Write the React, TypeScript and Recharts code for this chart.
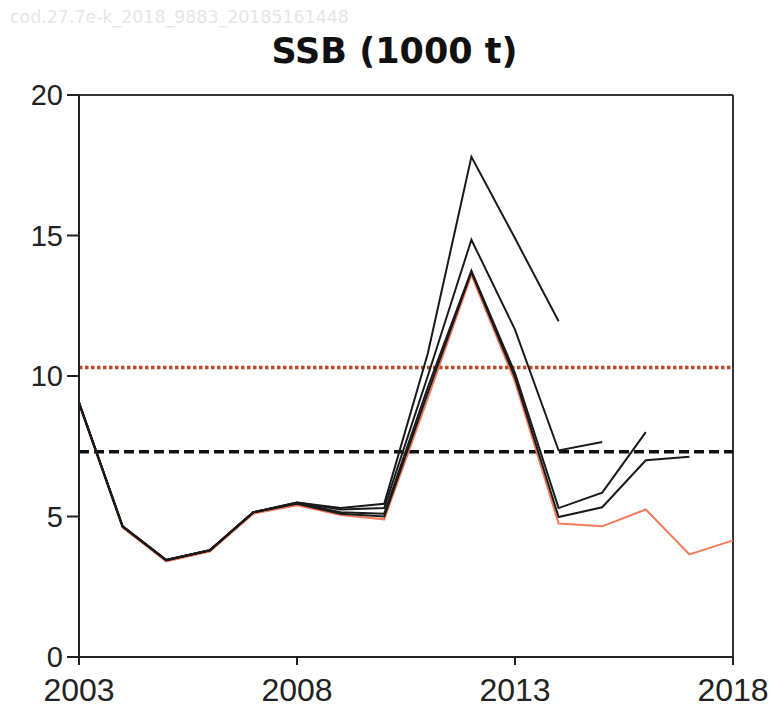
import React from "react";
import { LineChart, Line, XAxis, YAxis, ReferenceLine } from "recharts";

const years = [2003, 2004, 2005, 2006, 2007, 2008, 2009, 2010, 2011, 2012, 2013, 2014, 2015, 2016, 2017, 2018];
const ssbLatest = [9.0, 4.6, 3.4, 3.75, 5.1, 5.4, 5.05, 4.9, 9.2, 13.6, 9.8, 4.75, 4.65, 5.25, 3.65, 4.15];
const ssbPeel1 = [9.05, 4.65, 3.45, 3.8, 5.15, 5.45, 5.1, 5.0, 9.4, 13.7, 9.95, 4.98, 5.33, 7.0, 7.13];
const ssbPeel2 = [9.05, 4.65, 3.45, 3.8, 5.15, 5.48, 5.15, 5.1, 9.6, 13.75, 10.1, 5.3, 5.85, 8.0];
const ssbPeel3 = [9.05, 4.65, 3.45, 3.8, 5.15, 5.5, 5.25, 5.3, 10.0, 14.85, 11.65, 7.35, 7.65];
const ssbPeel4 = [9.05, 4.65, 3.45, 3.8, 5.15, 5.5, 5.3, 5.45, 10.8, 17.8, 14.9, 11.95];
const xTicks = [2003, 2008, 2013, 2018];
const yTicks = [0, 5, 10, 15, 20];
const bpa = 10.3;
const blim = 7.3;
const titleText = "SSB (1000 t)";
const watermarkText = "cod.27.7e-k_2018_9883_20185161448";

const data = years.map((y, i) => ({
  year: y,
  latest: ssbLatest[i] ?? null,
  p1: ssbPeel1[i] ?? null,
  p2: ssbPeel2[i] ?? null,
  p3: ssbPeel3[i] ?? null,
  p4: ssbPeel4[i] ?? null,
}));

export default function App() {
  return (
    <div style={{ position: "absolute", left: 0, top: 0, width: 771, height: 712, background: "#fff" }}>
      <LineChart width={771} height={712} data={data} margin={{ top: 95, right: 38, bottom: 0, left: 0 }}>
        <XAxis
          dataKey="year"
          type="number"
          domain={[2003, 2018]}
          ticks={xTicks}
          height={55}
          tickSize={8}
          tickMargin={13}
          axisLine={{ stroke: "#222", strokeWidth: 2 }}
          tickLine={{ stroke: "#222", strokeWidth: 2 }}
          tick={{ fill: "#222", fontSize: 32, fontFamily: "Liberation Sans, Arial, sans-serif" }}
          interval={0}
        />
        <YAxis
          type="number"
          domain={[0, 20]}
          ticks={yTicks}
          width={79}
          tickSize={12}
          tickMargin={4}
          axisLine={{ stroke: "#222", strokeWidth: 2 }}
          tickLine={{ stroke: "#222", strokeWidth: 2 }}
          tick={{ fill: "#222", fontSize: 29, fontFamily: "Liberation Sans, Arial, sans-serif" }}
          interval={0}
        />
        <ReferenceLine y={20} stroke="#333" strokeWidth={2} />
        <ReferenceLine x={2018} stroke="#333" strokeWidth={2} />
        <ReferenceLine y={bpa} stroke="#bc4a28" strokeWidth={3.5} strokeDasharray="3.5 2.5" />
        <ReferenceLine y={blim} stroke="#111" strokeWidth={3.5} strokeDasharray="10 5" />
        <Line dataKey="latest" stroke="#f47a5a" strokeWidth={2} dot={false} isAnimationActive={false} connectNulls={false} />
        <Line dataKey="p1" stroke="#1a1a1a" strokeWidth={2} dot={false} isAnimationActive={false} connectNulls={false} />
        <Line dataKey="p2" stroke="#1a1a1a" strokeWidth={2} dot={false} isAnimationActive={false} connectNulls={false} />
        <Line dataKey="p3" stroke="#1a1a1a" strokeWidth={2} dot={false} isAnimationActive={false} connectNulls={false} />
        <Line dataKey="p4" stroke="#1a1a1a" strokeWidth={2} dot={false} isAnimationActive={false} connectNulls={false} />
      </LineChart>
      <svg width={771} height={712} style={{ position: "absolute", left: 0, top: 0, pointerEvents: "none" }}>
        <text x={10} y={23} fontSize={17.4} fill="#e6e6e6" fontFamily="DejaVu Sans, sans-serif">{watermarkText}</text>
        <text x={394.5} y={63} fontSize={35} fontWeight="bold" textAnchor="middle" fill="#111" fontFamily="DejaVu Sans, sans-serif">{titleText}</text>
      </svg>
    </div>
  );
}
